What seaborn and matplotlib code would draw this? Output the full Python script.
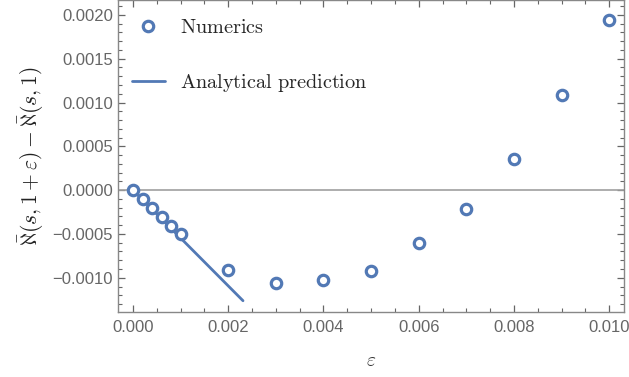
import matplotlib
matplotlib.use("Agg")
import matplotlib.pyplot as plt
import seaborn as sns
import numpy as np
import pandas as pd
from matplotlib.ticker import MultipleLocator, FuncFormatter

# Data
eps_num = [0.0, 0.0002, 0.0004, 0.0006, 0.0008, 0.0010, 0.002, 0.003, 0.004, 0.005, 0.006, 0.007, 0.008, 0.009, 0.010]
diff_num = [0.0, -0.000106, -0.000201, -0.000312, -0.000411, -0.000506, -0.000909, -0.001057, -0.00102,
            -0.00092, -0.000601, -0.00022, 0.00035, 0.001087, 0.001942]
eps_line = [0.0, 0.00231]
diff_line = [0.0, -0.001262]

sns.set_theme(style="ticks")
plt.rcParams['font.family'] = ['Liberation Sans', 'DejaVu Sans']
plt.rcParams['mathtext.fontset'] = 'cm'

color = '#5279B5'
gray = '#666666'

fig = plt.figure(figsize=(6.29, 3.77), dpi=100)
ax = fig.add_axes([0.1876, 0.173, 0.992 - 0.1876, 0.999 - 0.173])

df_num = pd.DataFrame({'eps': eps_num, 'diff': diff_num})
df_line = pd.DataFrame({'eps': eps_line, 'diff': diff_line})

ax.axhline(0, color='#a0a0a0', lw=1.2, zorder=1)
sns.lineplot(data=df_line, x='eps', y='diff', ax=ax, color=color, lw=2.0,
             label=r'$\mathrm{Analytical\ prediction}$', zorder=3)
ax.plot(df_num['eps'], df_num['diff'], 'o', mfc='white', mec=color, mew=2.3, ms=7.5,
        label=r'$\mathrm{Numerics}$', zorder=4, ls='none')

ax.set_xlim(-0.000315, 0.01031)
ax.set_ylim(-0.001388, 0.002166)

ax.xaxis.set_major_locator(MultipleLocator(0.002))
ax.xaxis.set_minor_locator(MultipleLocator(0.0005))
ax.yaxis.set_major_locator(MultipleLocator(0.0005))
ax.yaxis.set_minor_locator(MultipleLocator(0.0001))

def fmt(digits):
    def f(v, pos):
        s = f'{v:.{digits}f}'
        if s.startswith('-'):
            if float(s) == 0:
                s = s[1:]
            else:
                s = '\u2212' + s[1:]
        return s
    return FuncFormatter(f)

ax.xaxis.set_major_formatter(fmt(3))
ax.yaxis.set_major_formatter(fmt(4))

ax.tick_params(which='both', direction='in', top=True, right=True, color=gray, labelcolor=gray,
               labelsize=12)
ax.tick_params(which='major', length=5, width=0.9)
ax.tick_params(which='minor', length=3, width=0.8)
ax.tick_params(axis='x', pad=6)
for s in ax.spines.values():
    s.set_color('#888888')
    s.set_linewidth(1.0)

ax.set_xlabel(r'$\varepsilon$', fontsize=14, labelpad=13, color='#333333')
ax.set_ylabel(r'$\bar{\aleph}(s,1+\varepsilon)-\bar{\aleph}(s,1)$', fontsize=15.5, color='#222222', labelpad=5)

handles, labels = ax.get_legend_handles_labels()
leg = ax.legend(handles[::-1], labels[::-1], loc='upper left', frameon=False, fontsize=14.6,
                handlelength=1.6, labelspacing=1.75, handletextpad=0.75, borderaxespad=0.3,
                bbox_to_anchor=(0.0, 0.99))

fig.savefig('out.png', dpi=100)
